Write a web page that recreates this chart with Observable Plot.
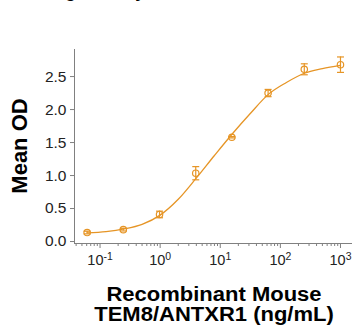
<!DOCTYPE html>
<html><head><meta charset="utf-8">
<script src="https://cdn.jsdelivr.net/npm/d3@7"></script>
<script src="https://cdn.jsdelivr.net/npm/@observablehq/plot@0.6"></script>
<style>
body{margin:0;background:#fff;font-family:"Liberation Sans",Arial,sans-serif;}
#wrap{position:relative;width:352px;height:328px;overflow:hidden;background:#fff;}
#title{position:absolute;top:-18px;left:9px;font-weight:bold;font-size:18px;line-height:18px;white-space:nowrap;color:#000;}
#chart{position:absolute;top:0;left:0;}
#ylabel{position:absolute;left:20px;top:146px;transform:translate(-50%,-50%) rotate(-90deg);font-weight:bold;font-size:22px;white-space:nowrap;color:#000;}
.xl{position:absolute;left:214px;transform:translateX(-50%) scaleX(1.1);font-weight:bold;font-size:20px;line-height:20px;text-align:center;white-space:nowrap;color:#000;}
#xl1{top:284px;}
#xl2{top:304px;}
</style></head>
<body>
<div id="wrap">
<div id="title">Binding Activity</div>
<div id="chart"></div>
<div id="ylabel">Mean OD</div>
<div class="xl" id="xl1">Recombinant Mouse</div>
<div class="xl" id="xl2">TEM8/ANTXR1 (ng/mL)</div>
</div>
<script>
// Measured points (concentration ng/mL, mean OD, error)
const conc = [0.061, 0.244, 0.977, 3.91, 15.6, 62.5, 250, 1000];
const meanOD = [0.136, 0.18, 0.41, 1.035, 1.58, 2.25, 2.61, 2.68];
const errOD = [0.02, 0.02, 0.05, 0.1, 0.01, 0.055, 0.083, 0.117];
// Fitted curve
const fitConc = [0.061, 0.126, 0.251, 0.501, 1, 2, 3.98, 7.94, 15.8, 31.6, 63.1, 126, 251, 501, 1000];
const fitOD = [0.13, 0.15, 0.19, 0.26, 0.40, 0.64, 0.96, 1.30, 1.63, 1.94, 2.23, 2.41, 2.55, 2.62, 2.67];
// Axes
const yTicks = [0, 0.5, 1, 1.5, 2, 2.5];
const yTickLabels = ["0.0", "0.5", "1.0", "1.5", "2.0", "2.5"];
const xTicks = [0.1, 1, 10, 100, 1000];
const xTickExp = ["-1", "0", "1", "2", "3"];

const orange = "#E69526";
const axisGray = "#808080";
const xDomain = [0.0376, 1585];
const yDomain = [-0.03, 2.91];

const xMinor = [];
for (let e = -2; e <= 3; e++) for (let m = 2; m <= 9; m++) {
  const v = m * Math.pow(10, e);
  if (v >= xDomain[0] && v <= xDomain[1]) xMinor.push(v);
}

const points = conc.map((c, i) => ({c, od: meanOD[i], err: errOD[i]}));
const fit = fitConc.map((c, i) => ({c, od: fitOD[i]}));

const cap = {draw(ctx, size) { const r = Math.sqrt(size / Math.PI); ctx.moveTo(-r, 0); ctx.lineTo(r, 0); }};

const plot = Plot.plot({
  width: 352, height: 275,
  marginLeft: 74, marginRight: 0, marginTop: 49, marginBottom: 32,
  style: {fontFamily: '"Liberation Sans", Arial, sans-serif', background: "transparent", overflow: "visible"},
  x: {type: "log", domain: xDomain},
  y: {domain: yDomain},
  marks: [
    Plot.axisY(yTicks, {tickSize: 4, tickPadding: 4, tickFormat: d => yTickLabels[yTicks.indexOf(d)], fontSize: 15.5, label: null, stroke: axisGray, fill: "#222"}),
    Plot.axisX(xMinor, {tickSize: 3, tickFormat: () => "", label: null, stroke: axisGray}),
    Plot.axisX(xTicks, {tickSize: 5, tickPadding: 6, tickFormat: d => xTickExp[xTicks.indexOf(d)], fontSize: 14.5, label: null, stroke: axisGray, fill: "#222"}),
    Plot.ruleX([xDomain[0]], {stroke: axisGray}),
    Plot.ruleY([yDomain[0]], {stroke: axisGray}),
    Plot.line(fit, {x: "c", y: "od", curve: "monotone-x", stroke: orange, strokeWidth: 1.3}),
    Plot.ruleX(points, {x: "c", y1: d => d.od - d.err, y2: d => d.od + d.err, stroke: orange, strokeWidth: 1.2}),
    Plot.dot(points, {x: "c", y: d => d.od + d.err, symbol: cap, r: 3.5, stroke: orange, strokeWidth: 1.2}),
    Plot.dot(points, {x: "c", y: d => d.od - d.err, symbol: cap, r: 3.5, stroke: orange, strokeWidth: 1.2}),
    Plot.dot(points, {x: "c", y: "od", r: 3.2, stroke: orange, fill: "none", strokeWidth: 1.2})
  ]
});
document.getElementById("chart").appendChild(plot);

// superscript exponents on x tick labels
d3.select(plot).selectAll('g[aria-label="x-axis tick label"] text').each(function() {
  const t = d3.select(this);
  const exp = t.text();
  if (!exp) return;
  t.text("");
  t.append("tspan").text("10");
  t.append("tspan").attr("dy", "-0.45em").attr("font-size", "0.72em").text(exp);
});
</script>
</body></html>
